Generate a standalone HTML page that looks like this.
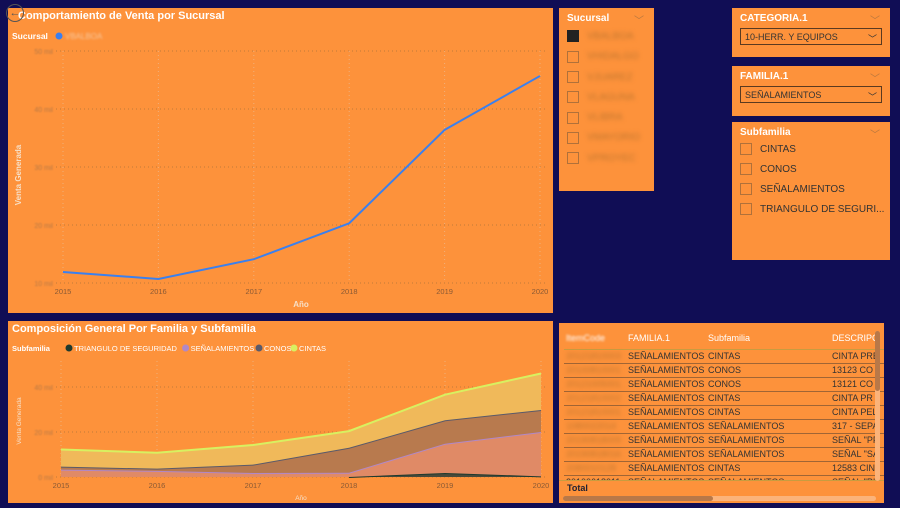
<!DOCTYPE html>
<html><head><meta charset="utf-8"><style>
body{margin:0;width:900px;height:506px;background:#100d55;font-family:"Liberation Sans",sans-serif;position:relative;overflow:hidden}
.p{position:absolute;background:#fd923b;box-sizing:border-box}
.t{position:absolute;color:#fff;font-weight:bold;font-size:11px}
.w{color:#fff}
.blur{filter:blur(2px);color:#c0762f}
.cb{display:inline-block;width:10px;height:10px;border:1px solid #b0713a;vertical-align:middle;margin-right:8px}
.chev{position:absolute;right:10px;top:4px;color:#b8783f;font-size:10px}
.dd{position:absolute;left:8px;right:8px;border:1px solid #5a3a20;height:17px;font-size:9px;color:#333;padding:3px 4px;box-sizing:border-box}
table{border-collapse:collapse;font-size:9px;color:#333;table-layout:fixed}
td{padding:0 2px;height:13px;border-bottom:1px solid #a06535;white-space:nowrap;overflow:hidden}
</style></head><body>
<div class="p" style="left:8px;top:8px;width:545px;height:305px">
<svg width="545" height="305" id="s1"></svg>
</div>
<div class="p" style="left:8px;top:321px;width:545px;height:182px">
<svg width="545" height="182" id="s2"></svg>
</div>
<div class="p" style="left:559px;top:8px;width:95px;height:183px">
<div class="t" style="left:8px;top:5px;font-size:10px">Sucursal</div><div class="chev">﹀</div>
<div style="position:absolute;left:8px;top:19px;font-size:10px;line-height:20.3px">
<div><span class="cb" style="background:#222;border-color:#222"></span><span class="blur">VBALBOA</span></div>
<div><span class="cb"></span><span class="blur">VHIDALGO</span></div>
<div><span class="cb"></span><span class="blur">VJUAREZ</span></div>
<div><span class="cb"></span><span class="blur">VLAGUNA</span></div>
<div><span class="cb"></span><span class="blur">VLIBRA</span></div>
<div><span class="cb"></span><span class="blur">VMAYORIO</span></div>
<div><span class="cb"></span><span class="blur">VPROYEC</span></div>
</div></div>
<div class="p" style="left:732px;top:8px;width:158px;height:49px">
<div class="t" style="left:8px;top:5px;font-size:10px">CATEGORIA.1</div><div class="chev">﹀</div>
<div class="dd" style="top:20px">10-HERR. Y EQUIPOS<span style="position:absolute;right:4px">﹀</span></div></div>
<div class="p" style="left:732px;top:66px;width:158px;height:50px">
<div class="t" style="left:8px;top:5px;font-size:10px">FAMILIA.1</div><div class="chev">﹀</div>
<div class="dd" style="top:20px">SEÑALAMIENTOS<span style="position:absolute;right:4px">﹀</span></div></div>
<div class="p" style="left:732px;top:122px;width:158px;height:138px">
<div class="t" style="left:8px;top:5px;font-size:10px">Subfamilia</div><div class="chev">﹀</div>
<div style="position:absolute;left:8px;top:18px;font-size:10px;line-height:20px;color:#333;white-space:nowrap">
<div><span class="cb"></span>CINTAS</div><div><span class="cb"></span>CONOS</div><div><span class="cb"></span>SEÑALAMIENTOS</div><div><span class="cb"></span>TRIANGULO DE SEGURI...</div></div></div>
<div class="p" style="left:559px;top:323px;width:325px;height:180px;overflow:hidden">
<table style="position:absolute;left:5px;top:4px;width:360px">
<colgroup><col style="width:62px"><col style="width:80px"><col style="width:124px"><col style="width:94px"></colgroup>
<tr style="height:22px"><td class="w" style="border-bottom:1px solid #c89c40"><span style="filter:blur(1px)">ItemCode</span></td><td class="w" style="border-bottom:1px solid #c89c40">FAMILIA.1</td><td class="w" style="border-bottom:1px solid #c89c40">Subfamilia</td><td class="w" style="border-bottom:1px solid #c89c40">DESCRIPC</td></tr>
<tr><td class="blur">20121810003</td><td>SEÑALAMIENTOS</td><td>CINTAS</td><td>CINTA PRE</td></tr>
<tr><td class="blur">20100810001</td><td>SEÑALAMIENTOS</td><td>CONOS</td><td>13123 CO</td></tr>
<tr><td class="blur">20121005001</td><td>SEÑALAMIENTOS</td><td>CONOS</td><td>13121 CO</td></tr>
<tr><td class="blur">20121810002</td><td>SEÑALAMIENTOS</td><td>CINTAS</td><td>CINTA PR</td></tr>
<tr><td class="blur">20121810001</td><td>SEÑALAMIENTOS</td><td>CINTAS</td><td>CINTA PEL</td></tr>
<tr><td class="blur">1080022014</td><td>SEÑALAMIENTOS</td><td>SEÑALAMIENTOS</td><td>317 - SEPA</td></tr>
<tr><td class="blur">20190818009</td><td>SEÑALAMIENTOS</td><td>SEÑALAMIENTOS</td><td>SEÑAL "PF</td></tr>
<tr><td class="blur">20190818016</td><td>SEÑALAMIENTOS</td><td>SEÑALAMIENTOS</td><td>SEÑAL "SA</td></tr>
<tr><td class="blur">2080010128</td><td>SEÑALAMIENTOS</td><td>CINTAS</td><td>12583 CIN</td></tr>
<tr><td>20100618011</td><td>SEÑALAMIENTOS</td><td>SEÑALAMIENTOS</td><td>SEÑAL "PI</td></tr>
</table>
<div style="position:absolute;left:0;top:157px;width:325px;height:23px;background:#fd923b;border-top:1px solid #c89c40"></div>
<div style="position:absolute;left:8px;top:160px;font-size:9px;font-weight:bold;color:#223">Total</div>
<div style="position:absolute;left:4px;top:173px;width:313px;height:5px;background:#fbb37a;border-radius:3px"><div style="width:150px;height:5px;background:#b87848;border-radius:3px"></div></div>
<div style="position:absolute;right:4px;top:8px;width:5px;height:150px;background:#fbb37a;border-radius:3px"><div style="height:60px;background:#b87848;border-radius:3px"></div></div>
</div>
<div style="position:absolute;left:6px;top:4px;width:16px;height:16px;border:1.5px solid #555;border-radius:50%;color:#555;font-size:11px;line-height:16px;text-align:center">←</div>
<script>
const years=["2015","2016","2017","2018","2019","2020"];
const ventas=[11.9,10.7,14.1,20.3,36.4,45.7];
const yTicks1=[10,20,30,40,50];
const tri=[0,0,0,0,1.8,0.3];
const sen=[3.3,2.7,1.8,1.9,13,19.7];
const conos=[1.3,1.0,3.7,11.1,10.4,9.8];
const cintas=[7.6,7.1,8.7,7.4,11.4,16.2];
const yTicks2=[0,20,40];
const NS="http://www.w3.org/2000/svg";
function mk(p,tag,a,name){const e=document.createElementNS(NS,tag);for(const k in a)e.setAttribute(k,a[k]);


p.appendChild(e);return e;}
function txt(p,x,y,s,a,name){const e=mk(p,'text',Object.assign({x:x,y:y},a),name);e.textContent=s;return e;}
// chart 1
const s1=document.getElementById('s1');
const x1=i=>55+i*(532-55)/5, y1=v=>275-(v-10)*5.8;
txt(s1,10,11,"Comportamiento de Venta por Sucursal",{fill:"#fff","font-size":11,"font-weight":"bold"},"chart-title");
txt(s1,4,31,"Sucursal",{fill:"#fff","font-size":8.5,"font-weight":"bold"},"legend-title");
mk(s1,'circle',{cx:51,cy:28,r:3.5,fill:"#3a7ff0"},"legend-marker");
txt(s1,57,31,"VBALBOA",{fill:"#f7c9a0","font-size":8,filter:"blur(1px)"},"legend-entry");
yTicks1.forEach(v=>{mk(s1,'line',{x1:48,x2:540,y1:y1(v),y2:y1(v),stroke:"#c07a3a","stroke-dasharray":"1 3"},"gridline");
txt(s1,45,y1(v)+3,v+" mil",{fill:"#b87a45","font-size":7,"text-anchor":"end",filter:"blur(0.8px)"},"y-tick-label");});
years.forEach((y,i)=>{mk(s1,'line',{x1:x1(i),x2:x1(i),y1:43,y2:275,stroke:"#f0b07a","stroke-dasharray":"1 3"},"x-gridline");
txt(s1,x1(i),286,y,{fill:"#8a5a35","font-size":7.5,"text-anchor":"middle"},"x-tick-label");});
txt(s1,293,299,"Año",{fill:"#f7e0c8","font-size":8,"font-weight":"bold","text-anchor":"middle"},"x-axis-title");
txt(s1,0,0,"Venta Generada",{fill:"#f7e0c8","font-size":8,"font-weight":"bold","text-anchor":"middle",transform:"translate(13,167) rotate(-90)"},"y-axis-title");
mk(s1,'polyline',{points:ventas.map((v,i)=>x1(i)+","+y1(v)).join(" "),fill:"none",stroke:"#3a80ef","stroke-width":2},"sales-line");
// chart 2
const s2=document.getElementById('s2');
const x2=i=>53+i*(533-53)/5, y2=v=>156-v*2.25;
txt(s2,4,11,"Composición General Por Familia y Subfamilia",{fill:"#fff","font-size":11,"font-weight":"bold"},"chart-title");
const leg=[["Subfamilia",null],["TRIANGULO DE SEGURIDAD","#1e3a2e"],["SEÑALAMIENTOS","#b088c8"],["CONOS","#5a5a6a"],["CINTAS","#d8f060"]];
let lx=4;leg.forEach(([n,c])=>{if(c){mk(s2,'circle',{cx:lx+3,cy:27,r:3.5,fill:c},"legend-marker");lx+=8;}
const t=txt(s2,lx,30,n,{fill:"#fff","font-size":7.5,"font-weight":c?"normal":"bold"},"legend-entry");lx+=n.length*4.8+(c?3:6);});
yTicks2.forEach(v=>{mk(s2,'line',{x1:48,x2:540,y1:y2(v),y2:y2(v),stroke:"#c07a3a","stroke-dasharray":"1 3"},"gridline");
txt(s2,45,y2(v)+3,v+" mil",{fill:"#b87a45","font-size":7,"text-anchor":"end",filter:"blur(0.8px)"},"y-tick-label");});
years.forEach((y,i)=>{mk(s2,'line',{x1:x2(i),x2:x2(i),y1:40,y2:156,stroke:"#f0b07a","stroke-dasharray":"1 3"},"x-gridline");
txt(s2,x2(i),167,y,{fill:"#8a5a35","font-size":7.5,"text-anchor":"middle"},"x-tick-label");});
txt(s2,293,179,"Año",{fill:"#f7e0c8","font-size":6.5,"text-anchor":"middle"},"x-axis-title");
txt(s2,0,0,"Venta Generada",{fill:"#f7e0c8","font-size":6.5,"text-anchor":"middle",transform:"translate(13,100) rotate(-90)"},"y-axis-title");
const series=[[tri,"#4a4a3a","#1e3a2e","triangulo"],[sen,"#e08a66","#b088c8","senalamientos"],[conos,"#b87a4e","#5a5a6a","conos"],[cintas,"#f0b95a","#d8f060","cintas"]];
let base=years.map(()=>0);
series.forEach(([d,f,l,n])=>{const top=base.map((b,i)=>b+d[i]);
const start=n==="triangulo"?3:0;
const idx=years.map((_,i)=>i).filter(i=>i>=start);
const pts=idx.map(i=>x2(i)+","+y2(top[i])).join(" ")+" "+idx.slice().reverse().map(i=>x2(i)+","+y2(base[i])).join(" ");
mk(s2,'polygon',{points:pts,fill:f},"area-"+n);
mk(s2,'polyline',{points:idx.map(i=>x2(i)+","+y2(top[i])).join(" "),fill:"none",stroke:l,"stroke-width":2},"line-"+n);
base=top;});
</script>
</body></html>
